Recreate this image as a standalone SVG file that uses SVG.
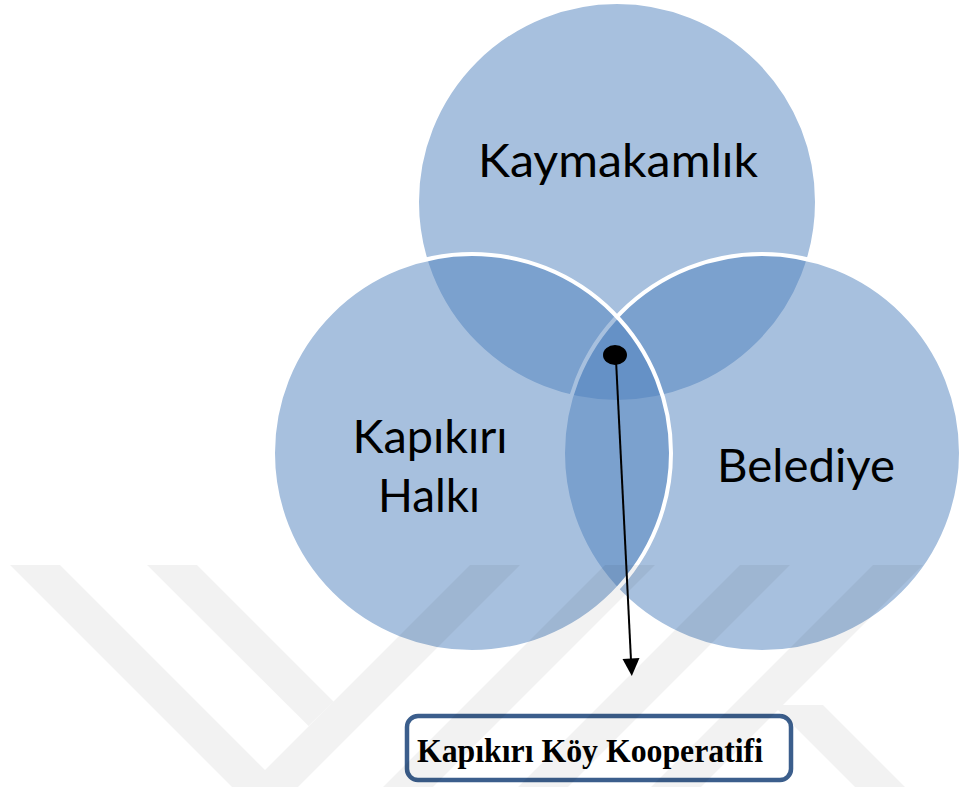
<svg xmlns="http://www.w3.org/2000/svg" width="960" height="787" viewBox="0 0 960 787">
  <style>
    .circ { fill: #4F81BD; fill-opacity: 0.5; stroke: #FFFFFF; stroke-width: 4; }
    .lbl { font-family: Lato, "Open Sans", "Liberation Sans", sans-serif; font-size: 46px; fill: #000000; text-anchor: middle; }
    .box { fill: none; stroke: #3B5E8C; stroke-width: 4.5; }
    .boxtxt { font-family: "Liberation Serif", "Times New Roman", serif; font-weight: bold; font-size: 33px; fill: #000000; }
    .conn { stroke: #000000; stroke-width: 2; fill: none; }
    .wm { fill: #000000; fill-opacity: 0.05; }
  </style>
  <rect width="960" height="787" fill="#FFFFFF" />

  <g id="node-kaymakamlik">
    <circle class="circ" cx="617" cy="202" r="200" />
  </g>
  <g id="node-belediye">
    <circle class="circ" cx="762" cy="453" r="199" />
  </g>
  <g id="node-kapikiri-halki">
    <circle class="circ" cx="472" cy="453" r="199" />
  </g>

  <g id="labels">
    <text class="lbl" x="618" y="177" textLength="280" lengthAdjust="spacingAndGlyphs">Kaymakamlık</text>
    <text class="lbl" x="430" y="453" textLength="155" lengthAdjust="spacingAndGlyphs">Kapıkırı</text>
    <text class="lbl" x="429" y="512" textLength="102" lengthAdjust="spacingAndGlyphs">Halkı</text>
    <text class="lbl" x="806" y="482" textLength="178" lengthAdjust="spacingAndGlyphs">Belediye</text>
  </g>

  <g id="connectors">
    <ellipse cx="615" cy="355" rx="12" ry="10" fill="#000000" />
    <line class="conn" x1="616" y1="360" x2="631" y2="660" />
    <path d="M622.5,659 L639.5,658 L631.8,676 Z" fill="#000000" />
  </g>

  <g id="node-kooperatif">
    <rect class="box" x="407" y="716" width="384" height="64" rx="11" ry="11" />
    <text class="boxtxt" x="417" y="762" textLength="346" lengthAdjust="spacingAndGlyphs">Kapıkırı Köy Kooperatifi</text>
  </g>

  <path class="wm" d="M10,565 L60,565 L282,787 L232,787 Z
    M147,565 L197,565 L333.5,701.5 L308.5,726 Z
    M470,565 L520,565 L298,787 L248,787 Z
    M605,565 L655,565 L433,787 L383,787 Z
    M740,565 L790,565 L568,787 L518,787 Z
    M873,565 L923,565 L701,787 L651,787 Z
    M773,705 L823,705 L905,787 L855,787 Z" />
</svg>
